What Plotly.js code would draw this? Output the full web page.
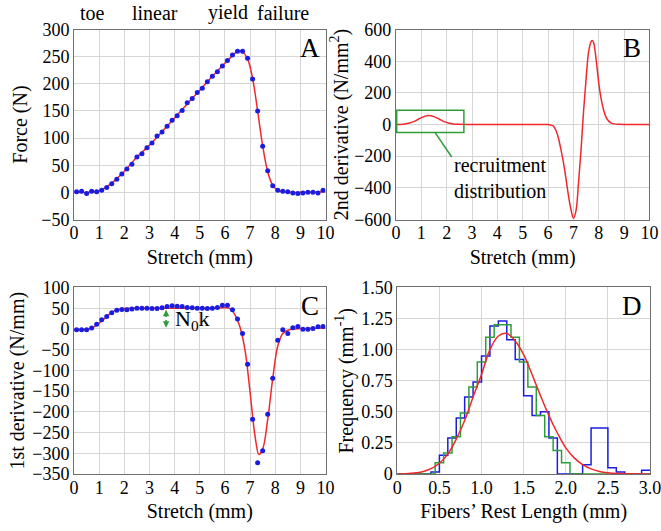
<!DOCTYPE html>
<html><head><meta charset="utf-8">
<script src="https://cdn.plot.ly/plotly-3.0.1.min.js"></script>
<style>html,body{margin:0;padding:0;background:#fff}#chart{width:661px;height:531px}</style>
</head><body><div id="chart"></div>
<script>
// ---- Panel A: force vs stretch ----
const dotX = [0.1,0.3,0.5,0.7,0.9,1.1,1.3,1.5,1.7,1.9,2.1,2.3,2.5,2.7,2.9,3.1,3.3,3.5,3.7,3.9,4.1,4.3,4.5,4.7,4.9,5.1,5.3,5.5,5.7,5.9,6.1,6.3,6.5,6.7,6.9,7.1,7.3,7.5,7.7,7.9,8.1,8.3,8.5,8.7,8.9,9.1,9.3,9.5,9.7,9.9];
const forceDots = [1,2,-2,2,1,4,9,16,24,34,43,52,65,71,82,91,104,111,122,133,141,151,165,173,184,192,204,214,222,233,243,253,260,260,247,209,150,85,40,12,4,2,1,-1,-2,-1,0,0,-1,4];
const forceFitX = [0,0.5,1.0,1.5,2.0,2.5,3.0,3.5,4.0,4.5,5.0,5.5,6.0,6.3,6.5,6.6,6.7,6.9,7.1,7.3,7.5,7.7,7.9,8.1,8.3,8.6,9,10];
const forceFit = [0,0,3,17,39,65,87,112,137,163,188,214,238,252,260,261,259,246,210,150,86,38,13,4,1,0,0,1];
const phaseLabels = ['toe','linear','yield','failure'];
const phaseX = [0.72,3.22,6.12,8.3];

// ---- Panel B: 2nd derivative ----
const bX = [0,0.3,0.5,0.7,0.9,1.1,1.3,1.5,1.7,1.9,2.1,2.3,2.5,2.8,3,4,5,5.8,6.0,6.1,6.2,6.3,6.4,6.5,6.6,6.7,6.8,6.9,7.0,7.1,7.2,7.3,7.4,7.5,7.6,7.7,7.75,7.8,7.9,8.0,8.1,8.2,8.3,8.4,8.5,8.6,8.8,9,10];
const bY = [0,2,8,18,35,50,57,50,35,18,8,2,1,0,0,0,0,0,0,-3,-9,-33,-80,-152,-235,-335,-445,-535,-592,-545,-370,-160,85,290,460,525,530,515,405,260,155,85,42,20,9,4,1,0,0];

// ---- Panel C: 1st derivative ----
const cDots = [-2,-2,-2,2,11,22,30,39,45,47,46,48,50,50,50,49,49,51,54,56,55,54,52,51,50,50,49,50,52,57,57,46,24,-11,-85,-218,-323,-294,-206,-119,-27,-2,-11,3,6,-1,-1,1,5,6];
const cFitX = [0,0.5,0.7,0.9,1.1,1.3,1.5,1.7,1.9,2.2,2.5,3,4,5,5.5,6.0,6.2,6.4,6.6,6.8,7.0,7.2,7.35,7.5,7.7,7.9,8.1,8.3,8.5,8.8,9.2,10];
const cFit = [-2,-1,2,9,19,30,40,46,49,50,50,50,50,50,50,51,49,34,4,-52,-153,-260,-303,-290,-219,-120,-41,-11,-3,0,1,2];

// ---- Panel D: fibre rest length distribution ----
const blueEdges = [0,0.4,0.5,0.6,0.7,0.8,0.9,1.0,1.1,1.2,1.3,1.4,1.5,1.6,1.7,1.8,1.9,2.0,2.1,2.2,2.3,2.4,2.5,2.6,2.7,2.8,2.9,3.0];
const blueVals = [0,0.016,0.15,0.29,0.45,0.62,0.74,0.95,1.19,1.23,1.08,0.92,0.63,0.47,0.50,0.29,0,0,0,0.075,0.37,0.37,0.05,0.016,0,0,0.03,0.03];
const greenEdges = [0,0.45,0.55,0.65,0.75,0.85,0.95,1.05,1.15,1.25,1.35,1.45,1.55,1.65,1.75,1.85,1.95,2.05,3.0];
const greenVals = [0,0.09,0.17,0.30,0.49,0.70,0.90,1.10,1.20,1.20,1.10,0.90,0.70,0.47,0.30,0.19,0.09,0,0];
const dFitX = [0,0.1,0.2,0.3,0.4,0.5,0.6,0.7,0.8,0.9,1.0,1.1,1.2,1.3,1.4,1.5,1.6,1.7,1.8,1.9,2.0,2.1,2.2,2.3,2.4,2.5,2.6,2.7,2.8,2.9,3.0];
const dFit = [0.001,0.003,0.008,0.019,0.043,0.087,0.16,0.28,0.43,0.62,0.80,1.0,1.11,1.13,1.07,0.96,0.80,0.63,0.47,0.33,0.21,0.13,0.076,0.041,0.021,0.01,0.004,0.002,0.001,0,0];
const dTickVals = [0,0.5,1.0,1.5,2.0,2.5,3.0];
const dTickText = ['0','0.5','1.0','1.5','2.0','2.5','3.0'];
const dYTickVals = [0,0.25,0.5,0.75,1.0,1.25,1.5];
const dYTickText = ['0','0.25','0.50','0.75','1.00','1.25','1.50'];

const FONT = 'Liberation Serif';
const RED = '#f0282c', BLUE = '#1c1ce0', GREEN = '#2e9e3a';

const traces = [
  {x: forceFitX, y: forceFit, xaxis:'x', yaxis:'y', mode:'lines', line:{color:RED, width:1.5, shape:'spline'}},
  {x: dotX, y: forceDots, xaxis:'x', yaxis:'y', mode:'markers', marker:{color:BLUE, size:5}},
  {x: bX, y: bY, xaxis:'x2', yaxis:'y2', mode:'lines', line:{color:RED, width:1.5, shape:'spline'}},
  {x: cFitX, y: cFit, xaxis:'x3', yaxis:'y3', mode:'lines', line:{color:RED, width:1.5, shape:'spline'}},
  {x: dotX, y: cDots, xaxis:'x3', yaxis:'y3', mode:'markers', marker:{color:BLUE, size:5}},
  {x: blueEdges, y: blueVals, xaxis:'x4', yaxis:'y4', mode:'lines', line:{color:BLUE, width:1.5, shape:'hv'}},
  {x: greenEdges, y: greenVals, xaxis:'x4', yaxis:'y4', mode:'lines', line:{color:GREEN, width:1.5, shape:'hv'}},
  {x: dFitX, y: dFit, xaxis:'x4', yaxis:'y4', mode:'lines', line:{color:RED, width:1.5, shape:'spline'}}
];

function ax(extra){
  return Object.assign({showgrid:true, gridcolor:'#d6d6d6', gridwidth:1, zeroline:false,
    showline:true, linecolor:'#707070', linewidth:1, mirror:true, ticks:'',
    ticklabeloverflow:'allow',
    tickfont:{family:FONT, size:18, color:'#000'}, automargin:false, fixedrange:true}, extra);
}
function ttl(t, s){ return {text:t, font:{family:FONT, size:20, color:'#000'}, standoff:s}; }

const xA = [0.112, 0.4925], xB = [0.599, 0.9826], xD = [0.601, 0.9834];
const yTop = [0.5866, 0.9444], yBot = [0.1073, 0.4586];

const annFont = {family:FONT, size:20, color:'#000'};
const annotations = [];
phaseLabels.forEach((t,i)=>annotations.push({text:t, x:phaseX[i], xref:'x', y:0.976, yref:'paper', showarrow:false, font:annFont, xanchor:'center', yanchor:'middle'}));
[['A','x','y',0.985,0.905],['B','x2','y2',0.975,0.905],['C','x3','y3',0.98,0.9],['D','x4','y4',0.975,0.9]].forEach(a=>{
  annotations.push({text:a[0], xref:a[1]+' domain', yref:a[2]+' domain', x:a[3], y:a[4], xanchor:'right', yanchor:'middle', showarrow:false, font:{family:FONT, size:27, color:'#000'}});
});
annotations.push({text:'recruitment<br>distribution', xref:'x2', yref:'y2', x:2.2, y:-335, xanchor:'left', yanchor:'middle', align:'left', showarrow:false, font:annFont});
// double-headed N0k arrow: two short arrows pointing outward from the middle
annotations.push({text:'', xref:'x3', yref:'y3', x:3.66, y:46, axref:'x3', ayref:'y3', ax:3.66, ay:25, showarrow:true, arrowhead:2, arrowsize:0.8, arrowwidth:1.6, arrowcolor:GREEN, standoff:0, startstandoff:0});
annotations.push({text:'', xref:'x3', yref:'y3', x:3.66, y:3, axref:'x3', ayref:'y3', ax:3.66, ay:25, showarrow:true, arrowhead:2, arrowsize:0.8, arrowwidth:1.6, arrowcolor:GREEN, standoff:0, startstandoff:0});
annotations.push({text:'N<sub>0</sub>k', xref:'x3', yref:'y3', x:3.92, y:22, xanchor:'left', yanchor:'middle', showarrow:false, font:{family:FONT, size:22, color:'#000'}});

const layout = {
  width:661, height:531, margin:{l:0,r:0,t:0,b:0}, showlegend:false,
  font:{family:FONT, color:'#000'},
  paper_bgcolor:'#fff', plot_bgcolor:'#fff',
  xaxis: ax({domain:xA, anchor:'y', range:[0,10], dtick:1, ticklabelstandoff:-3, title:ttl('Stretch (mm)', 7)}),
  yaxis: ax({domain:yTop, anchor:'x', range:[-50,300], dtick:50, title:ttl('Force (N)', 8)}),
  xaxis2: ax({domain:xB, anchor:'y2', range:[0,10], dtick:1, ticklabelstandoff:-3, title:ttl('Stretch (mm)', 7)}),
  yaxis2: ax({domain:yTop, anchor:'x2', range:[-600,600], dtick:200, title:ttl('2nd derivative (N/mm<sup>2</sup>)', 0)}),
  xaxis3: ax({domain:xA, anchor:'y3', range:[0,10], dtick:1, ticklabelstandoff:-3, title:ttl('Stretch (mm)', 7)}),
  yaxis3: ax({domain:yBot, anchor:'x3', range:[-350,100], dtick:50, title:ttl('1st derivative (N/mm)', 2)}),
  xaxis4: ax({domain:xD, anchor:'y4', range:[0,3], tickvals:dTickVals, ticktext:dTickText, ticklabelstandoff:-3, title:ttl('Fibers\u2019 Rest Length (mm)', 7)}),
  yaxis4: ax({domain:yBot, anchor:'x4', range:[0,1.5], tickvals:dYTickVals, ticktext:dYTickText, title:ttl('Frequency (mm<sup>-1</sup>)', 2)}),
  annotations: annotations,
  shapes: [
    {type:'rect', xref:'x2', yref:'y2', x0:0.03, x1:2.68, y0:-50, y1:90, line:{color:GREEN, width:1.5}},
    {type:'line', xref:'x2', yref:'y2', x0:1.54, y0:-50, x1:2.2, y1:-205, line:{color:GREEN, width:1.5}}
  ]
};

Plotly.newPlot('chart', traces, layout, {staticPlot:true, displayModeBar:false});
</script>
</body></html>
